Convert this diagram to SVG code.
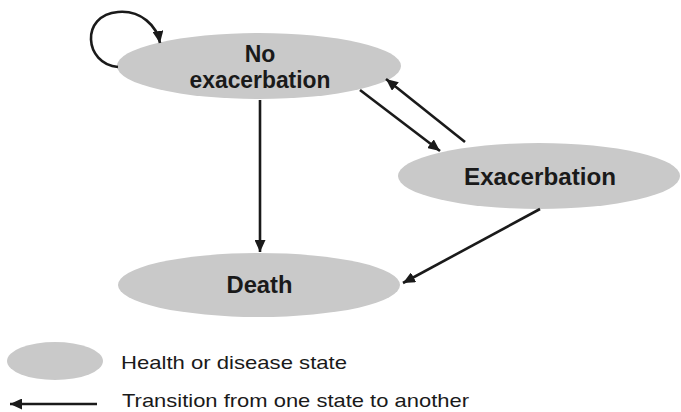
<svg xmlns="http://www.w3.org/2000/svg" width="681" height="412" viewBox="0 0 681 412">
  <style>
    .state { fill: #c9c9c9; }
    .label { font-family: "Liberation Sans", Arial, sans-serif; font-weight: bold; font-size: 23px; fill: #1a1a1a; text-anchor: middle; }
    .legend { font-family: "Liberation Sans", Arial, sans-serif; font-size: 19px; fill: #1a1a1a; }
    .edge { fill: none; stroke: #1a1a1a; stroke-width: 2.6; marker-end: url(#head); }
  </style>
  <defs>
    <marker id="head" markerUnits="userSpaceOnUse" markerWidth="13" markerHeight="11" refX="12" refY="5.5" orient="auto">
      <path d="M0,0 L12,5.5 L0,11 Z" fill="#1a1a1a"/>
    </marker>
  </defs>
  <rect width="681" height="412" fill="#ffffff"/>

  <g id="no-exacerbation">
    <ellipse class="state" cx="259" cy="66" rx="142" ry="33"/>
    <text class="label" x="260" y="62">No</text>
    <text class="label" x="260" y="88" textLength="141" lengthAdjust="spacingAndGlyphs">exacerbation</text>
  </g>

  <g id="exacerbation">
    <ellipse class="state" cx="539" cy="176" rx="141" ry="33"/>
    <text class="label" x="540" y="185" textLength="152" lengthAdjust="spacingAndGlyphs">Exacerbation</text>
  </g>

  <g id="death">
    <ellipse class="state" cx="259" cy="285" rx="141" ry="32"/>
    <text class="label" x="259.5" y="293" textLength="66" lengthAdjust="spacingAndGlyphs">Death</text>
  </g>

  <g id="connectors">
    <path class="edge" d="M118,67 C84,64 80,15 118,12 C141,10 157,26 160,43"/>
    <line class="edge" x1="260" y1="100" x2="260" y2="252"/>
    <line class="edge" x1="360" y1="90" x2="440" y2="151"/>
    <line class="edge" x1="465" y1="142" x2="386" y2="79"/>
    <line class="edge" x1="540" y1="209" x2="403" y2="283"/>
  </g>

  <g id="legend">
    <ellipse class="state" cx="55" cy="361" rx="48" ry="19"/>
    <text class="legend" x="121" y="369" textLength="226" lengthAdjust="spacingAndGlyphs">Health or disease state</text>
    <line class="edge" x1="97" y1="404" x2="10" y2="404"/>
    <text class="legend" x="122" y="407" textLength="347" lengthAdjust="spacingAndGlyphs">Transition from one state to another</text>
  </g>
</svg>
